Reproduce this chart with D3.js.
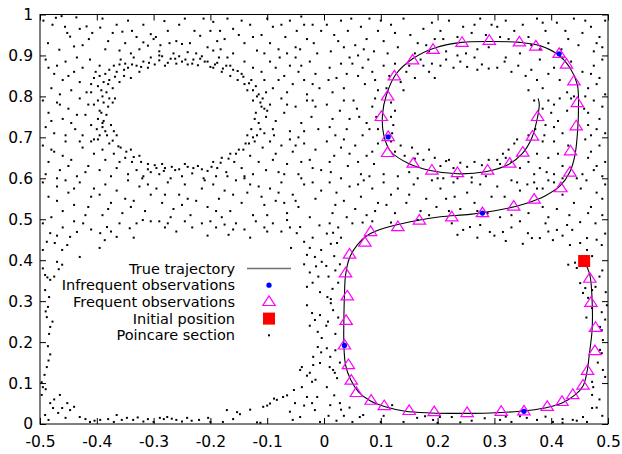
<!DOCTYPE html>
<html><head><meta charset="utf-8">
<script src="https://cdn.jsdelivr.net/npm/d3@7"></script>
<style>body{margin:0;background:#fff}svg{display:block}</style>
</head><body>
<svg id="c" width="622" height="454"></svg>
<script>
const xTicks = [-0.5,-0.4,-0.3,-0.2,-0.1,0,0.1,0.2,0.3,0.4,0.5];
const yTicks = [0,0.1,0.2,0.3,0.4,0.5,0.6,0.7,0.8,0.9,1];
const legendLabels = ["True trajectory","Infrequent observations","Frequent observations","Initial position","Poincare section"];

const initialPosition = [0.458,0.398];

const trajectory = [[.458,.398],[.468,.364],[.472,.303],[.472,.230],[.467,.169],[.463,.127],[.456,.093],[.442,.071],[.419,.051],[.389,.039],[.345,.031],[.293,.027],[.240,.026],[.187,.027],[.143,.031],[.108,.042],[.082,.056],[.061,.078],[.047,.108],[.038,.144],[.035,.193],[.035,.254],[.036,.315],[.038,.364],[.045,.406],[.059,.438],[.078,.462],[.108,.479],[.152,.494],[.205,.506],[.257,.512],[.310,.523],[.354,.538],[.389,.557],[.416,.582],[.433,.616],[.442,.658],[.446,.707],[.448,.768],[.446,.829],[.433,.870],[.412,.902],[.380,.924],[.345,.932],[.293,.934],[.243,.932],[.196,.919],[.156,.892],[.126,.853],[.110,.804],[.103,.756],[.105,.707],[.117,.666],[.149,.636],[.187,.619],[.235,.611],[.284,.616],[.324,.633],[.349,.660],[.366,.699],[.375,.743],[.379,.780],[.377,.795]];

const frequentObs = [[.468,.355],[.470,.296],[.478,.235],[.477,.178],[.464,.130],[.456,.094],[.438,.071],[.419,.054],[.393,.042],[.352,.031],[.312,.030],[.252,.027],[.194,.029],[.150,.032],[.106,.044],[.083,.057],[.057,.076],[.048,.106],[.043,.144],[.036,.192],[.039,.252],[.041,.312],[.038,.368],[.045,.414],[.072,.443],[.082,.469],[.130,.481],[.168,.497],[.225,.505],[.279,.515],[.334,.531],[.370,.548],[.417,.576],[.433,.614],[.434,.666],[.444,.727],[.446,.784],[.440,.837],[.427,.878],[.414,.904],[.373,.922],[.344,.932],[.291,.936],[.243,.931],[.192,.914],[.156,.888],[.124,.849],[.112,.800],[.101,.750],[.113,.701],[.112,.662],[.157,.636],[.190,.619],[.235,.613],[.288,.619],[.327,.636],[.350,.663],[.367,.702],[.376,.750]];

const infrequentObs = [[.352,.031],[.036,.192],[.279,.515],[.414,.904],[.113,.701]];

// Poincare section points as x,y pairs
const poincareXY = [
-.494,.985,-.472,.992,-.462,.996,-.436,.993,-.418,.971,-.43,.965,-.447,.946,-.466,.914,-.44,.922,-.414,.94,-.486,.93,-.456,.97,
-.394,.968,-.372,.955,-.355,.958,-.35,.93,-.33,.945,-.318,.975,-.318,.932,-.31,.924,-.305,.952,-.3,.94,-.385,.915,-.36,.912,-.34,.905,-.325,.915,-.39,.99,-.345,.985,
-.296,.945,-.288,.925,-.281,.984,-.272,.93,-.26,.935,-.25,.928,-.236,.93,-.228,.96,-.218,.948,-.212,.99,-.205,.92,-.24,.908,-.265,.905,-.29,.91,-.225,.905,-.255,.975,
-.195,.982,-.183,.96,-.17,.99,-.16,.965,-.15,.95,-.195,.912,-.182,.915,-.16,.905,-.14,.93,-.13,.975,-.118,.912,-.105,.905,-.11,.95,-.175,.94,
-.09,.97,-.075,.975,-.06,.985,-.048,.96,-.035,.975,-.02,.975,-.095,.93,-.08,.915,-.065,.905,-.05,.92,-.03,.94,-.012,.905,-.005,.96,-.04,.995,
.005,.975,.018,.95,.03,.985,.042,.96,.055,.925,.065,.97,.075,.94,.088,.91,.095,.96,.012,.91,.035,.92,.08,.99,.06,.9,
.105,.935,.118,.975,.13,.92,.14,.99,.152,.95,.165,.93,.175,.965,.19,.98,.195,.94,.112,.905,.16,.905,.185,.91,
.205,.96,.22,.985,.235,.945,.245,.97,.26,.955,.275,.99,.285,.95,.295,.975,.215,.91,.25,.905,.27,.915,
.305,.97,.32,.985,.335,.96,.35,.975,.36,.945,.375,.99,.39,.96,.31,.945,.345,.905,.38,.915,.395,.93,
.41,.98,.425,.96,.44,.99,.455,.955,.47,.97,.485,.945,.495,.985,.448,.925,.475,.91,.49,.92,.43,.94,
-.49,.89,-.47,.875,-.455,.885,-.44,.86,-.425,.87,-.412,.89,-.405,.845,-.43,.835,-.46,.84,-.48,.82,-.445,.815,-.418,.81,-.398,.825,-.475,.855,
-.395,.875,-.385,.855,-.378,.84,-.372,.82,-.365,.86,-.36,.835,-.352,.85,-.345,.87,-.34,.845,-.33,.875,-.325,.86,-.318,.885,-.31,.87,-.305,.895,-.39,.8,-.383,.81,-.358,.89,-.335,.895,-.37,.875,-.388,.835,-.35,.88,-.395,.85,
-.298,.878,-.29,.888,-.28,.875,-.27,.892,-.26,.88,-.25,.885,-.24,.878,-.23,.89,-.222,.876,-.21,.885,-.2,.872,-.285,.898,-.255,.898,-.215,.898,
-.195,.87,-.188,.882,-.18,.86,-.172,.875,-.165,.85,-.16,.865,-.152,.84,-.145,.855,-.14,.83,-.135,.815,-.128,.84,-.12,.825,-.115,.805,-.11,.86,-.105,.84,-.17,.895,-.14,.885,-.125,.87,-.185,.895,-.102,.81,
-.095,.885,-.085,.87,-.078,.895,-.07,.85,-.06,.875,-.055,.83,-.045,.86,-.035,.84,-.025,.885,-.015,.855,-.008,.82,-.09,.82,-.065,.81,-.03,.805,-.05,.895,
.01,.87,.022,.845,.035,.82,.05,.88,.06,.85,.072,.83,.085,.86,.095,.815,.015,.81,.045,.895,.078,.89,
.105,.875,.115,.85,.125,.88,.135,.835,.145,.86,.16,.845,.175,.875,.185,.86,.195,.845,.11,.82,.17,.89,.19,.88,.14,.815,
.205,.875,.215,.89,.228,.87,.24,.885,.252,.872,.265,.895,.278,.878,.29,.868,.235,.9,.27,.865,
.305,.87,.318,.885,.33,.86,.342,.875,.355,.85,.365,.865,.375,.84,.385,.82,.395,.855,.36,.815,.38,.89,.32,.895,
.405,.87,.415,.84,.428,.81,.435,.885,.455,.86,.465,.82,.475,.875,.485,.845,.495,.805,.49,.89,.42,.895,.46,.8,
-.495,.79,-.485,.76,-.47,.785,-.46,.745,-.45,.77,-.438,.72,-.43,.795,-.42,.755,-.41,.73,-.405,.78,-.475,.71,-.455,.705,-.49,.725,-.425,.705,
-.398,.79,-.392,.76,-.388,.74,-.385,.715,-.38,.775,-.395,.705,-.378,.795,-.39,.725,-.383,.755,-.398,.745,-.372,.785,-.37,.715,-.365,.705,-.368,.795,-.375,.73,
-.125,.79,-.12,.76,-.115,.735,-.11,.775,-.105,.71,-.128,.72,-.118,.705,-.102,.75,-.108,.795,-.135,.705,
-.095,.78,-.085,.74,-.075,.795,-.07,.76,-.06,.715,-.05,.775,-.04,.735,-.03,.79,-.022,.75,-.01,.72,-.088,.705,-.045,.7,-.015,.775,
.005,.78,.015,.745,.028,.765,.04,.72,.052,.79,.062,.75,.075,.735,.085,.775,.095,.72,.02,.705,.068,.705,.09,.795,.035,.79,
.118,.785,.122,.73,.12,.71,.125,.765,.118,.75,
.37,.79,.372,.72,.36,.705,.385,.77,.39,.73,.395,.79,.388,.705,
.405,.78,.412,.74,.42,.71,.428,.765,.435,.795,.458,.77,.465,.73,.475,.79,.485,.745,.495,.71,.49,.775,.47,.705,.415,.795,
-.495,.68,-.485,.64,-.475,.665,-.465,.62,-.455,.69,-.445,.645,-.435,.605,-.425,.675,-.415,.63,-.405,.66,-.49,.61,-.46,.655,-.43,.69,
-.398,.695,-.39,.67,-.385,.645,-.378,.685,-.37,.66,-.365,.625,-.358,.675,-.35,.65,-.345,.61,-.338,.64,-.33,.62,-.325,.655,-.318,.605,-.31,.635,-.305,.615,-.395,.62,-.375,.605,-.36,.64,-.34,.67,
-.298,.632,-.29,.61,-.28,.625,-.27,.6,-.262,.62,-.25,.605,-.24,.628,-.232,.612,-.222,.63,-.212,.6,-.205,.618,-.285,.635,-.245,.635,
-.195,.64,-.188,.625,-.18,.65,-.172,.615,-.165,.66,-.158,.64,-.15,.67,-.145,.625,-.138,.685,-.13,.655,-.122,.69,-.115,.64,-.108,.675,-.102,.62,-.17,.605,-.14,.605,-.19,.605,-.125,.61,
-.095,.69,-.085,.66,-.075,.68,-.065,.635,-.055,.665,-.045,.61,-.035,.685,-.025,.645,-.015,.67,-.005,.62,-.08,.615,-.06,.695,-.04,.64,
.005,.69,.018,.655,.03,.675,.042,.63,.055,.68,.065,.61,.075,.655,.088,.635,.095,.685,.012,.615,.045,.66,.08,.605,
.118,.69,.125,.665,.135,.68,.142,.655,.155,.675,.165,.66,.175,.645,.185,.67,.195,.65,.16,.648,.105,.61,.13,.605,.15,.615,
.205,.63,.215,.642,.228,.625,.24,.638,.252,.628,.265,.64,.278,.632,.29,.645,.21,.6,.26,.602,.285,.605,
.305,.645,.315,.66,.325,.67,.335,.685,.34,.695,.31,.635,.345,.625,.36,.64,.375,.66,.385,.69,.392,.615,.37,.61,.395,.65,.38,.625,
.405,.69,.412,.66,.42,.63,.405,.61,.43,.68,.46,.695,.465,.65,.475,.62,.485,.68,.495,.64,.49,.605,.455,.61,
-.495,.59,-.485,.555,-.47,.58,-.46,.52,-.45,.565,-.44,.535,-.43,.59,-.42,.51,-.41,.555,-.405,.575,-.48,.505,-.455,.595,
-.395,.56,-.385,.585,-.375,.54,-.365,.57,-.355,.515,-.345,.595,-.335,.545,-.325,.58,-.315,.52,-.305,.56,-.39,.51,-.35,.55,-.32,.6,
-.295,.575,-.285,.54,-.275,.59,-.265,.525,-.255,.56,-.245,.585,-.235,.51,-.225,.545,-.215,.575,-.205,.53,-.27,.505,-.25,.535,
-.195,.585,-.185,.55,-.175,.57,-.165,.52,-.155,.595,-.145,.54,-.135,.565,-.125,.51,-.115,.58,-.105,.535,-.18,.505,-.14,.6,-.11,.555,
-.095,.575,-.085,.545,-.075,.59,-.065,.515,-.055,.56,-.045,.53,-.035,.585,-.025,.505,-.015,.55,-.005,.57,-.07,.54,-.04,.6,
.01,.59,.022,.565,.035,.545,.045,.58,.055,.525,.065,.555,.075,.51,.085,.575,.095,.54,.015,.515,.04,.505,.07,.595,.09,.52,.03,.6,
.105,.59,.118,.56,.13,.575,.145,.54,.158,.585,.17,.52,.18,.55,.19,.595,.198,.53,.125,.515,.165,.6,.185,.51,
.205,.575,.215,.55,.228,.59,.24,.525,.252,.565,.265,.54,.275,.585,.288,.515,.295,.555,.235,.6,.27,.52,.22,.52,
.305,.58,.318,.555,.33,.595,.345,.57,.358,.585,.37,.59,.385,.575,.395,.595,.31,.505,.33,.51,.36,.515,.385,.53,.395,.505,
.405,.59,.41,.525,.42,.56,.432,.51,.44,.54,.452,.575,.462,.595,.47,.53,.48,.565,.49,.51,.495,.585,.445,.6,
-.495,.49,-.482,.466,-.474,.442,-.461,.425,-.452,.437,-.447,.457,-.435,.469,-.424,.49,-.43,.408,-.495,.425,-.488,.445,-.46,.48,-.41,.475,
-.394,.466,-.382,.481,-.386,.449,-.365,.457,-.342,.478,-.319,.498,-.305,.495,-.36,.49,-.335,.455,-.395,.43,
-.29,.495,-.275,.49,-.26,.47,-.245,.495,-.232,.48,-.215,.49,-.205,.46,
-.19,.48,-.175,.487,-.155,.49,-.14,.475,-.13,.455,-.12,.495,-.105,.48,-.168,.462,
-.09,.49,-.065,.498,-.048,.466,-.042,.481,-.03,.413,-.016,.408,-.005,.425,-.075,.47,-.02,.455,-.008,.485,-.058,.43,-.035,.445,
.005,.465,.012,.44,.018,.41,.025,.48,.03,.455,.01,.49,.016,.467,.023,.442,.05,.49,.068,.492,.085,.495,
.118,.492,.165,.498,
.245,.474,.257,.481,.275,.486,.292,.469,.225,.49,.235,.462,.27,.455,
.315,.469,.33,.48,.345,.495,.359,.466,.366,.454,.38,.454,.39,.49,.32,.447,.35,.44,.395,.47,
.41,.474,.428,.486,.437,.474,.451,.493,.463,.454,.451,.442,.433,.437,.403,.449,.463,.425,.489,.437,.478,.49,.495,.465,.472,.41,
-.491,.364,-.487,.358,-.482,.352,-.475,.36,-.491,.327,-.47,.396,-.461,.389,-.467,.378,-.495,.38,-.484,.31,
-.004,.396,-.014,.385,-.025,.37,-.007,.322,-.02,.345,-.01,.36,-.035,.39,-.03,.335,
.004,.386,.008,.36,.015,.33,.02,.375,.006,.31,.025,.345,.012,.305,.028,.39,
.43,.389,.442,.394,.445,.381,.451,.408,.46,.405,.451,.344,.46,.332,.456,.32,.472,.327,.478,.335,.465,.308,.496,.322,.49,.375,.485,.36,
-.486,.286,-.488,.261,-.482,.237,-.49,.275,-.484,.22,-.478,.25,
-.021,.271,-.007,.266,-.016,.254,-.011,.225,-.004,.21,-.03,.29,-.025,.24,
.016,.278,.007,.25,.004,.24,.02,.22,.012,.295,.025,.26,
.472,.283,.489,.273,.486,.237,.489,.229,.491,.205,.498,.29,.462,.26,.495,.255,
-.486,.19,-.482,.17,-.488,.139,-.492,.12,-.497,.102,-.485,.155,
-.039,.139,-.025,.125,-.021,.103,-.019,.164,-.011,.188,-.019,.144,-.007,.149,-.042,.132,-.03,.118,-.015,.108,-.005,.175,
.01,.139,.019,.125,.011,.164,.016,.132,.023,.112,.005,.185,.02,.18,.028,.15,
.489,.173,.486,.181,.491,.132,.472,.103,.482,.15,.495,.115,
-.495,.09,-.49,.085,-.497,.071,-.482,.051,-.477,.039,-.468,.027,-.461,.039,-.452,.051,-.447,.034,-.491,.022,-.465,.071,-.43,.017,-.44,.042,-.485,.01,
-.412,.005,-.404,.008,-.394,.01,-.38,.012,-.365,.022,-.356,.01,-.347,.015,-.336,.01,-.328,.016,-.318,.006,
-.3,.005,-.289,.015,-.282,.012,-.276,.017,-.268,.013,-.26,.01,-.25,.006,-.241,.015,-.233,.008,-.204,.015,-.2,.005,
-.178,.005,-.171,.034,-.153,.029,-.148,.024,-.118,.004,-.112,.003,-.107,.042,-.1,.045,
-.083,.059,-.072,.066,-.065,.07,-.053,.083,-.039,.09,-.051,.051,-.03,.066,-.021,.051,-.016,.034,-.042,.017,-.055,.01,-.007,.005,-.012,.066,-.095,.05,-.088,.062,
.005,.09,.011,.046,.028,.051,.018,.07,.035,.02,.063,.017,.069,.022,.045,.04,.008,.02,.022,.008,.05,.005,
.12,.046,.164,.015,.192,.01,.14,.005,.105,.02,.178,.019,
.225,.017,.204,.017,.26,.008,.283,.014,.24,.004,
.31,.01,.357,.015,.33,.005,.375,.01,.39,.018,.345,.019,
.403,.005,.42,.012,.438,.01,.445,.008,.456,.017,.463,.005,.472,.039,.474,.09,.472,.071,.485,.06,.49,.02,
-.392,.815,-.38,.83,-.368,.848,-.352,.865,-.338,.878,-.322,.872,-.308,.882,-.29,.9,-.275,.882,-.262,.892,-.244,.89,-.232,.88,-.218,.892,-.205,.885,-.192,.878,-.178,.868,-.165,.875,-.152,.862,-.142,.848,-.132,.832,-.125,.815,-.118,.8,-.112,.785,-.105,.77,-.122,.745,-.112,.72,-.125,.7,-.132,.685,-.142,.67,-.155,.66,-.168,.648,-.182,.638,-.198,.628,-.215,.622,-.23,.625,-.255,.622,-.268,.628,-.282,.618,-.295,.625,-.31,.622,-.322,.64,-.335,.652,-.348,.665,-.362,.678,-.372,.692,-.382,.705,-.39,.735,-.395,.765,-.388,.785,-.4,.72,-.405,.695,-.41,.81,-.402,.86,-.378,.865,-.36,.878,
-.478,.975,-.452,.955,-.425,.925,-.408,.955,-.38,.935,-.365,.975,-.338,.96,-.275,.96,-.245,.99,-.2,.96,-.188,.935,-.145,.985,-.125,.945,-.1,.99,-.068,.945,-.042,.915,-.018,.93,.025,.935,.048,.99,.07,.915,.1,.985,.125,.955,.18,.925,.21,.94,.265,.975,.29,.92,.325,.94,.365,.925,.385,.98,.418,.915,.46,.985,.48,.93,
-.485,.87,-.465,.805,-.45,.85,-.435,.895,-.41,.83,-.08,.84,-.04,.875,-.02,.83,.008,.84,.04,.855,.068,.87,.09,.84,.03,.88,.48,.83,.47,.855,.44,.8,.15,.875,
-.48,.74,-.465,.78,-.445,.735,-.415,.78,-.435,.755,-.1,.765,-.09,.72,-.065,.78,-.035,.715,-.02,.79,.01,.725,.045,.745,.058,.77,.08,.72,.092,.75,.465,.76,.48,.72,.405,.725,.4,.76,
-.48,.67,-.45,.63,-.42,.615,-.41,.69,-.47,.6,-.09,.645,-.07,.61,-.05,.68,-.02,.625,.01,.64,.035,.695,.06,.64,.085,.665,.47,.665,.48,.63,.22,.645,.32,.65,.33,.64,
-.47,.545,-.44,.575,-.415,.53,-.38,.525,-.34,.53,-.31,.585,-.28,.56,-.24,.55,-.21,.595,-.19,.52,-.16,.56,-.13,.585,-.1,.51,-.08,.565,-.05,.545,-.02,.59,.02,.535,.06,.585,.11,.535,.15,.56,.2,.6,.23,.555,.26,.59,.34,.59,.375,.575,.42,.6,.465,.515,.49,.55,
-.47,.46,-.44,.495,-.375,.47,-.33,.49,-.28,.48,-.2,.495,-.16,.475,-.1,.47,-.06,.48,-.025,.43,.3,.46,.42,.46,.48,.45,
-.475,.06,-.455,.015,-.42,.012,-.37,.005,-.31,.012,-.22,.01,-.16,.012,-.13,.035,-.06,.03,-.035,.045,.03,.035,.1,.005,.2,.003,.32,.018,.42,.003,.48,.04
];
const poincare = d3.range(0, poincareXY.length, 2).map(i => [poincareXY[i], poincareXY[i+1]]);

const L = 40, R = 608, T = 14.5, B = 424;
const x = d3.scaleLinear().domain([-0.5, 0.5]).range([L, R]);
const y = d3.scaleLinear().domain([0, 1]).range([B, T]);
const svg = d3.select("#c");
const FONT = "DejaVu Sans";
const fmt = d => String(+d.toFixed(1));

// Poincare section dots
svg.append("g").selectAll("rect").data(poincare).join("rect")
  .attr("x", d => x(d[0]) - 1).attr("y", d => y(d[1]) - 1)
  .attr("width", 2).attr("height", 2).attr("fill", "#000");

// trajectory
const line = d3.line().x(d => x(d[0])).y(d => y(d[1])).curve(d3.curveCatmullRom.alpha(0.5));
svg.append("path").datum(trajectory).attr("d", line)
  .attr("fill", "none").attr("stroke", "#000").attr("stroke-width", 1.1);

const tri = "M0,-6L6.2,3.6L-6.2,3.6Z";
svg.append("g").selectAll("path").data(frequentObs).join("path")
  .attr("d", tri).attr("transform", d => `translate(${x(d[0])},${y(d[1])})`)
  .attr("fill", "none").attr("stroke", "#ff00ff").attr("stroke-width", 1.2);

svg.append("g").selectAll("circle").data(infrequentObs).join("circle")
  .attr("cx", d => x(d[0])).attr("cy", d => y(d[1])).attr("r", 2.6).attr("fill", "#0000ff");

svg.append("rect").attr("x", x(initialPosition[0]) - 6).attr("y", y(initialPosition[1]) - 6)
  .attr("width", 12).attr("height", 12).attr("fill", "#ff0000");

// axes
const gx = svg.append("g").attr("transform", `translate(0,${B})`)
  .call(d3.axisBottom(x).tickValues(xTicks).tickSize(-6).tickPadding(12).tickFormat(fmt));
const gy = svg.append("g").attr("transform", `translate(${L},0)`)
  .call(d3.axisLeft(y).tickValues(yTicks).tickSize(-6).tickPadding(7).tickFormat(fmt));
const gt = svg.append("g").attr("transform", `translate(0,${T})`)
  .call(d3.axisTop(x).tickValues(xTicks).tickSize(-6).tickFormat(""));
const gr = svg.append("g").attr("transform", `translate(${R},0)`)
  .call(d3.axisRight(y).tickValues(yTicks).tickSize(-6).tickFormat(""));
[gx, gy, gt, gr].forEach(g => {
  g.select(".domain").remove();
  g.selectAll("line").attr("stroke", "#000");
  g.attr("font-family", FONT).attr("font-size", 15.5);
  g.selectAll("text").attr("fill", "#000");
});
svg.append("rect").attr("x", L).attr("y", T).attr("width", R - L).attr("height", B - T)
  .attr("fill", "none").attr("stroke", "#000").attr("stroke-width", 1);

// legend
const lg = svg.append("g").attr("font-family", FONT).attr("font-size", 14.5);
const rowY = i => 268.5 + i * 16.7;
lg.selectAll("text").data(legendLabels).join("text")
  .attr("x", 235).attr("y", (d, i) => rowY(i)).attr("dy", "0.35em")
  .attr("text-anchor", "end").attr("fill", "#000").text(d => d);
const sx = 269;
lg.append("line").attr("x1", 247).attr("x2", 291).attr("y1", rowY(0)).attr("y2", rowY(0))
  .attr("stroke", "#707070").attr("stroke-width", 1.6);
lg.append("circle").attr("cx", sx).attr("cy", rowY(1)).attr("r", 2.6).attr("fill", "#0000ff");
lg.append("path").attr("d", tri).attr("transform", `translate(${sx},${rowY(2)})`)
  .attr("fill", "none").attr("stroke", "#ff00ff").attr("stroke-width", 1.2);
lg.append("rect").attr("x", sx - 6).attr("y", rowY(3) - 6).attr("width", 12).attr("height", 12).attr("fill", "#ff0000");
lg.append("rect").attr("x", sx - 1).attr("y", rowY(4) - 1).attr("width", 2).attr("height", 2).attr("fill", "#000");
</script>
</body></html>
